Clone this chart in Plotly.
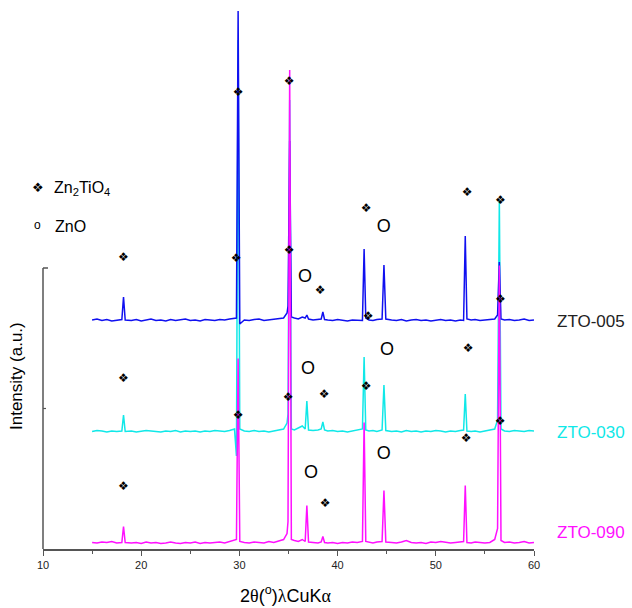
import plotly.graph_objects as go

# ---------------- data ----------------
two_theta = [
    15.0, 15.5, 16.0, 16.5, 17.0, 17.5,
    18.03, 18.2, 18.37,
    19.0, 19.5, 20.0, 20.5, 21.0, 21.5, 22.0, 22.5, 23.0, 23.5, 24.0,
    24.5, 25.0, 25.5, 26.0, 26.5, 27.0, 27.5, 28.0, 28.5, 29.0, 29.5,
    29.7, 29.87, 30.04,
    30.5, 31.0, 31.5, 32.0, 32.5, 33.0, 33.5, 34.0, 34.5,
    34.85, 34.95, 35.12, 35.29,
    35.6, 36.0, 36.4,
    36.7, 36.87, 37.04,
    37.5, 38.0,
    38.33, 38.5, 38.67,
    39.0, 39.5, 40.0, 40.5, 41.0, 41.5, 42.0,
    42.53, 42.7, 42.87,
    43.2, 43.6, 44.0,
    44.53, 44.72, 44.91,
    45.5, 46.0, 46.5, 47.0, 47.5, 48.0, 48.5, 49.0, 49.5, 50.0, 50.5, 51.0, 51.5, 52.0, 52.5,
    52.83, 53.0, 53.17,
    53.6, 54.0, 54.5, 55.0, 55.5, 56.0,
    56.29, 56.47, 56.64,
    57.0, 57.5, 58.0, 58.5, 59.0, 59.5, 60.0,
]

i_zto005 = [
    10, 20, 5, 15, 0, 10,
    15, 240, 10,
    5, 15, 0, 10, 20, 5, 10, 0, 15, 5, 10,
    20, 5, 10, 0, 15, 10, 5, 15, 10, 20, 25,
    30, 3100, -30,
    10, 5, 15, 20, 5, 10, 15, 20, 30,
    80, 150, 1800, 40,
    30, 20, 40,
    30, 60, 20,
    10, 15,
    20, 90, 15,
    10, 5, 15, 10, 0, 10, 5,
    5, 720, 30,
    10, 5, 15,
    20, 560, 20,
    10, 5, 15, 0, 10, 15, 5, 10, 0, 10, 15, 5, 10, 0, 10,
    5, 850, 20,
    10, 15, 5, 10, 15, 20,
    60, 590, 20,
    10, 15, 5, 10, 20, 5, 10,
]

i_zto030 = [
    5, 15, 10, 0, 10, 5,
    10, 170, 5,
    10, 0, 5, 15, 10, 5, 0, 10, 5, 15, 0,
    10, 5, 10, 0, 10, 5, 15, 10, 5, 15, 30,
    -240, 3920, 30,
    10, 5, 15, 5, 10, 0, 10, 15, 30,
    90, 180, 3320, 30,
    20, 40, 60,
    30, 310, 20,
    15, 20,
    30, 100, 20,
    10, 15, 5, 10, 0, 10, 20,
    30, 750, 20,
    10, 15, 5,
    20, 470, 15,
    5, 10, 0, 15, 5, 10, 0, 10, 5, 15, 10, 0, 10, 5, 15,
    20, 380, 10,
    5, 10, 0, 10, 15, 30,
    120, 2320, 30,
    10, 5, 15, 10, 5, 15, 10,
]

i_zto090 = [
    10, 5, 15, 10, 20, 5,
    10, 170, 10,
    5, 10, 0, 15, 5, 10, 0, 5, 15, 5, 0,
    10, 5, 15, 0, 10, 5, 10, 15, 5, 20, 30,
    40, 1850, 20,
    10, 5, 15, 10, 5, 20, 10, 25, 40,
    100, 220, 4735, 40,
    30, 20, 40,
    20, 380, 15,
    10, 5,
    15, 70, 10,
    5, 10, 0, 10, 5, 15, 10,
    20, 1210, 20,
    10, 5, 15,
    20, 530, 15,
    10, 5, 15, 30, 10, 5, 10, 0, 15, 10, 20, 10, 5, 10, 15,
    20, 580, 10,
    5, 15, 10, 5, 10, 40,
    150, 2780, 30,
    10, 15, 5, 10, 20, 5, 10,
]

sample_names = ["ZTO-005", "ZTO-030", "ZTO-090"]
sample_offsets = [2280, 1170, 55]
sample_colors = ["#1010f0", "#10e8e8", "#ff10ff"]
label_colors = ["#222222", "#10e8e8", "#ff10ff"]

# Zn2TiO4 peak markers (2theta, intensity position)
zn2tio4_x = [18.18, 29.67, 29.88, 35.07, 35.07, 38.22, 42.90, 43.11, 53.18, 56.57, 56.57,
             18.18, 34.97, 38.63, 42.90, 53.28, 29.87, 56.54, 53.08,
             18.18, 38.73]
zn2tio4_y = [2910, 2900, 4560, 4670, 2980, 2580, 3400, 2320, 3560, 3480, 2490,
             1700, 1510, 1540, 1620, 2000, 1330, 1270, 1100,
             620, 450]
# ZnO peak markers
zno_x = [36.67, 44.71, 36.98, 45.02, 44.71, 37.29]
zno_y = [2720, 3220, 1800, 1990, 950, 760]

y_axis_ticks = [0, 1405, 2810]

for arr in (i_zto005, i_zto030, i_zto090):
    assert len(arr) == len(two_theta), len(arr)

# ---------------- figure ----------------
fig = go.Figure()
series = [i_zto005, i_zto030, i_zto090]
draw_order = [1, 0, 2]
for k in draw_order:
    fig.add_trace(go.Scatter(
        x=two_theta,
        y=[v + sample_offsets[k] for v in series[k]],
        mode="lines",
        line=dict(color=sample_colors[k], width=1.5),
        name=sample_names[k],
        hoverinfo="skip",
    ))

fig.add_trace(go.Scatter(
    x=zn2tio4_x, y=zn2tio4_y, mode="text",
    text=["\u2756"] * len(zn2tio4_x),
    textfont=dict(family="DejaVu Sans", size=12, color="black"),
    hoverinfo="skip",
))
fig.add_trace(go.Scatter(
    x=zno_x, y=zno_y, mode="text",
    text=["O"] * len(zno_x),
    textfont=dict(family="Arial, Liberation Sans", size=18, color="black"),
    hoverinfo="skip",
))

axis_col = "#555555"
shapes = [dict(type="line", xref="paper", yref="y", x0=0, x1=0,
               y0=y_axis_ticks[0], y1=y_axis_ticks[-1],
               line=dict(color=axis_col, width=1.5))]
shapes.append(dict(type="line", xref="paper", yref="y", x0=0, x1=5 / 491,
                   y0=y_axis_ticks[2], y1=y_axis_ticks[2], line=dict(color=axis_col, width=1.5)))
shapes.append(dict(type="line", xref="paper", yref="y", x0=0, x1=3 / 491,
                   y0=y_axis_ticks[1], y1=y_axis_ticks[1], line=dict(color=axis_col, width=1.2)))

annotations = []
for k in range(3):
    annotations.append(dict(
        x=1.043, xref="paper", y=sample_offsets[k] + (0 if k < 2 else 115), yref="y",
        text=sample_names[k], showarrow=False, xanchor="left", yanchor="middle",
        font=dict(family="Arial, Liberation Sans", size=17, color=label_colors[k]),
    ))

# legend-like keys
annotations += [
    dict(x=-0.0102, xref="paper", y=0.6716, yref="paper", text="\u2756", showarrow=False,
         xanchor="center", yanchor="middle",
         font=dict(family="DejaVu Sans", size=13, color="black")),
    dict(x=0.0183, xref="paper", y=0.668, yref="paper", text="Zn<sub>2</sub>TiO<sub>4</sub>",
         showarrow=False, xanchor="left", yanchor="middle",
         font=dict(family="Arial, Liberation Sans", size=16, color="black")),
    dict(x=-0.0102, xref="paper", y=0.601, yref="paper", text="o", showarrow=False,
         xanchor="center", yanchor="middle",
         font=dict(family="Arial, Liberation Sans", size=12, color="black")),
    dict(x=0.0205, xref="paper", y=0.599, yref="paper", text="ZnO", showarrow=False,
         xanchor="left", yanchor="middle",
         font=dict(family="Arial, Liberation Sans", size=16, color="black")),
    dict(x=-0.055, xref="paper", y=1730, yref="y", text="Intensity (a.u.)", showarrow=False,
         textangle=-90, xanchor="center", yanchor="middle",
         font=dict(family="Arial, Liberation Sans", size=17, color="black")),
    dict(x=0.493, xref="paper", y=-0.0835, yref="paper",
         text="2<span style='font-family:Liberation Serif'>\u03b8</span>(<sup>o</sup>)"
              "<span style='font-family:Liberation Serif'>\u03bb</span>CuK"
              "<span style='font-family:Liberation Serif'>\u03b1</span>",
         showarrow=False, xanchor="center", yanchor="middle",
         font=dict(family="Arial, Liberation Sans", size=18, color="black")),
]

fig.update_layout(
    width=632, height=608,
    margin=dict(l=43, r=98, t=10, b=59),
    paper_bgcolor="white", plot_bgcolor="white",
    showlegend=False,
    shapes=shapes,
    annotations=annotations,
    xaxis=dict(
        range=[10, 60], dtick=10, tick0=10,
        showline=True, linecolor=axis_col, linewidth=1.5,
        ticks="outside", ticklen=5, tickwidth=1.2, tickcolor=axis_col,
        minor=dict(dtick=5, ticks="outside", ticklen=3, tickcolor=axis_col, tickwidth=1),
        showgrid=False, zeroline=False,
        tickfont=dict(family="Arial, Liberation Sans", size=11, color="#222222"),
    ),
    yaxis=dict(
        range=[0, 5390], visible=False, showgrid=False, zeroline=False,
    ),
)

fig.write_html(
    "out.html",
    config={"displayModeBar": False},
    post_script="document.body.style.margin='0';document.body.style.overflow='hidden';",
)
